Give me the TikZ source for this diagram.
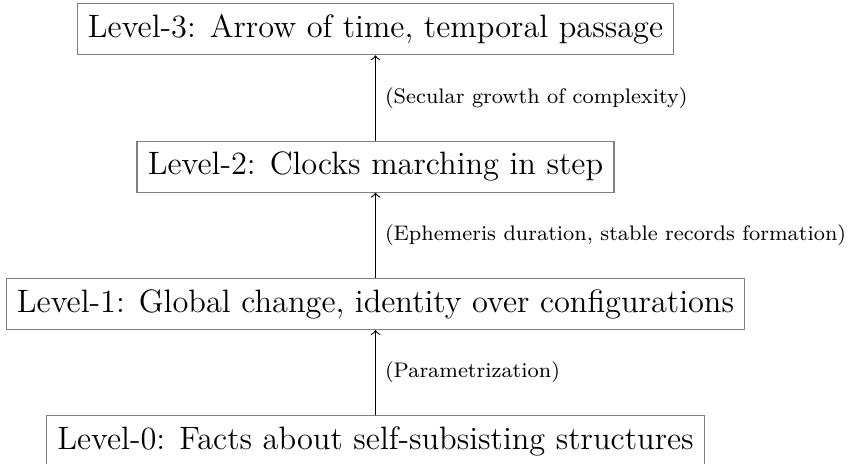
\documentclass[tikz,border=0pt]{standalone}
\usepackage{amsmath,amssymb}
\usetikzlibrary{arrows,positioning}

\tikzset{level/.style={draw=gray, font=\large, inner sep=4pt},
  note/.style={midway, right, font=\fontsize{7.8pt}{9.5pt}\selectfont}}

\begin{document}
\begin{tikzpicture}
  \useasboundingbox (-139.1pt,-8.3pt) rectangle (175.4pt,163.5pt);

  \node [level] at (0,0) (L0) {Level-0: Facts about self-subsisting structures};
  \node [level, above= 1.11cm of L0] (L1) {Level-1: Global change, identity over configurations};
  \node [level, above= 1.11cm of L1] (L2) {Level-2: Clocks marching in step};
  \node [level, above= 1.11cm of L2] (L3) {Level-3: Arrow of time, temporal passage};

  \draw [->] (L0) -- (L1) node [note] {(Parametrization)};
  \draw [->] (L1) -- (L2) node [note] {(Ephemeris duration, stable records formation)};
  \draw [->] (L2) -- (L3) node [note] {(Secular growth of complexity)};

\end{tikzpicture}
\end{document}
